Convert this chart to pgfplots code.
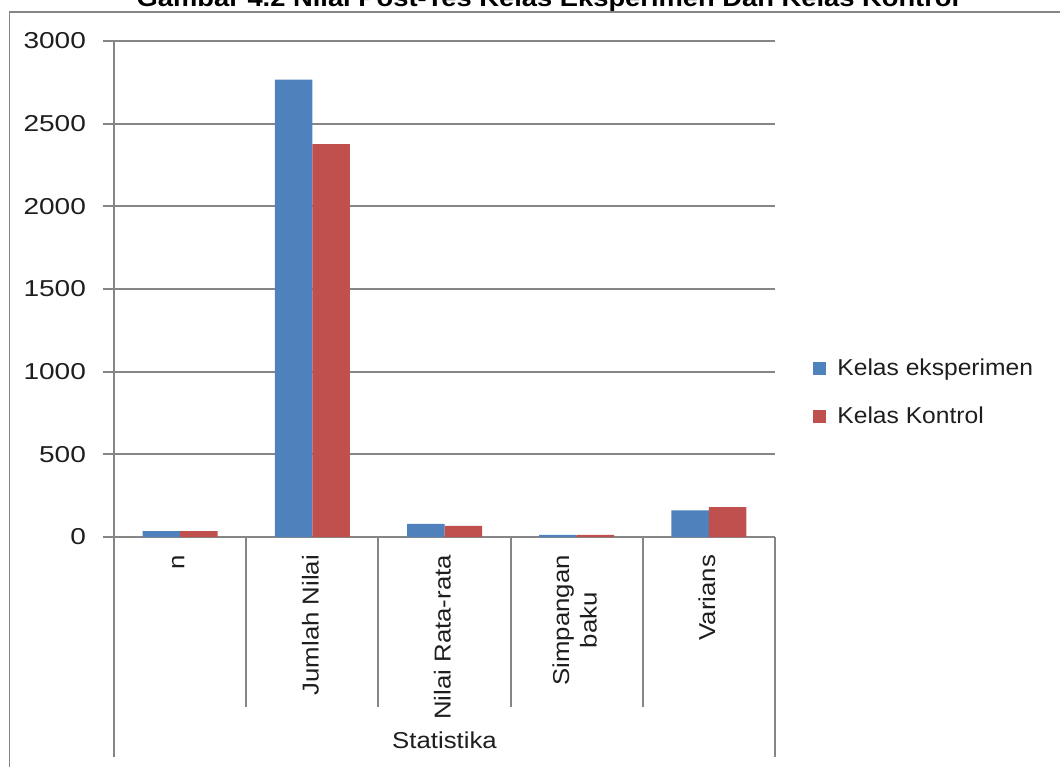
\documentclass[border=0pt]{standalone}
\usepackage{fontspec}
\setmainfont{Liberation Sans}
\newfontfamily\fytick[FakeStretch=1.22]{Liberation Sans}
\newfontfamily\fxtick[FakeStretch=1.12]{Liberation Sans}
\newfontfamily\fleg[FakeStretch=1.07]{Liberation Sans}
\newfontfamily\ftitle[FakeStretch=1.12]{Liberation Sans}
\usepackage{pgfplots}
\pgfplotsset{compat=1.18}
\definecolor{cblue}{RGB}{79,129,189}
\definecolor{cred}{RGB}{192,80,77}
\definecolor{cgrid}{RGB}{134,134,134}
\definecolor{ctext}{RGB}{30,30,30}
\begin{document}
\begin{tikzpicture}[x=0.5pt,y=0.5pt]
\useasboundingbox (0,0) rectangle (1060,767);
\node[anchor=base, font=\ftitle\bfseries\fontsize{12.2}{14}\selectfont, inner sep=0pt] at (548,760) {Gambar 4.2 Nilai Post-Tes Kelas Eksperimen Dan Kelas Kontrol};
\draw[cgrid, line width=0.6pt] (9.5,0) -- (9.5,755) -- (1060,755);
\begin{axis}[
  at={(57pt,115pt)}, anchor=south west,
  scale only axis, width=330.5pt, height=248pt,
  clip=false,
  ybar=0pt, bar width=18.75pt,
  xmin=-0.5, xmax=4.5, ymin=0, ymax=3000,
  ytick={0,500,...,3000},
  xtick={0,1,2,3,4},
  xticklabels={n, Jumlah Nilai, Nilai Rata-rata, {Simpangan\\baku}, Varians},
  axis x line*=bottom, axis y line*=left,
  axis line style={-, cgrid, line width=1pt},
  ymajorgrids, grid style={cgrid, line width=1pt},
  tick align=outside, major tick length=5.5pt,
  ytick style={cgrid, line width=1pt},
  xtick style={draw=none},
  tick label style={text=ctext},
  yticklabel style={font=\fytick\fontsize{11.5}{13.8}\selectfont, xshift=-5pt, /pgf/number format/assume math mode=true, /pgf/number format/1000 sep={}},
  xticklabel style={font=\fxtick\fontsize{11.5}{13.8}\selectfont, rotate=90, anchor=east, align=center, yshift=1pt},
  xlabel={Statistika},
  xlabel style={at={(axis description cs:0.5,0)}, anchor=center, yshift=-101.5pt, font=\fxtick\fontsize{11.5}{13.8}\selectfont, text=ctext},
  legend style={draw=none, fill=none, at={(1.0575,0.2913)}, anchor=west, inner sep=0pt,
    font=\fleg\fontsize{11.5}{13.8}\selectfont, text=ctext, row sep=10pt, cells={anchor=west},
    /tikz/every odd column/.append style={column sep=3.5pt}},
  legend image code/.code={\fill[#1] (0pt,-3.25pt) rectangle (6.5pt,3.25pt);},
]
\addplot[fill=cblue, draw=none] coordinates {(0,35) (1,2767) (2,79) (3,13) (4,161)};
\addlegendentry{Kelas eksperimen}
\addplot[fill=cred, draw=none] coordinates {(0,35) (1,2376) (2,68) (3,13.5) (4,181)};
\addlegendentry{Kelas Kontrol}
\pgfplotsinvokeforeach{0.5,1.5,2.5,3.5}{\draw[cgrid, line width=1pt] (axis cs:#1,0) -- ++(0pt,-85pt);}
\draw[cgrid, line width=1pt] (axis cs:-0.5,0) -- ++(0pt,-110pt);
\draw[cgrid, line width=1pt] (axis cs:4.5,0) -- ++(0pt,-110pt);
\end{axis}
\end{tikzpicture}
\end{document}
